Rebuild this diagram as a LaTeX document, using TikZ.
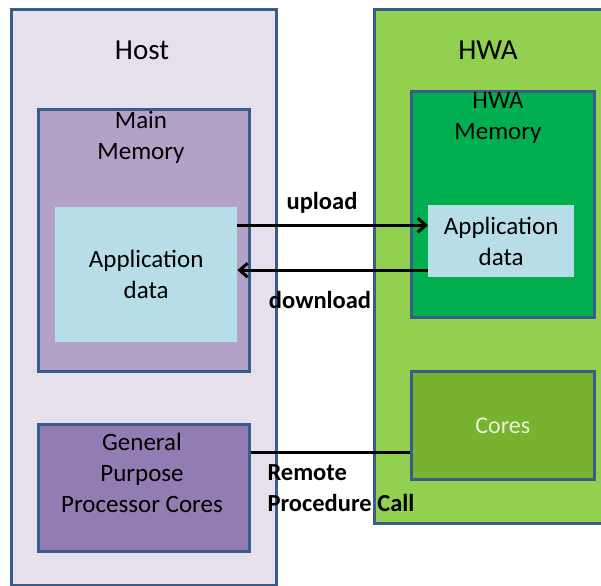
\documentclass[tikz,border=0pt]{standalone}
\usepackage{fontspec}
\setmainfont{Carlito}
\usepackage{tikz}
\usetikzlibrary{arrows.meta}

\definecolor{edge}{HTML}{385D8A}
\definecolor{hostfill}{HTML}{E6E0EC}
\definecolor{memfill}{HTML}{B3A2C7}
\definecolor{gpfill}{HTML}{927DB3}
\definecolor{datafill}{HTML}{B7DEE8}
\definecolor{hwafill}{HTML}{92D050}
\definecolor{hwamemfill}{HTML}{00B050}
\definecolor{corefill}{HTML}{77B32E}
\definecolor{coretext}{HTML}{EBF1DE}

\tikzset{
  box/.style={draw=edge, line width=2.6pt, anchor=north west, inner sep=0pt},
  datbox/.style={anchor=north west, fill=datafill, inner sep=0pt, align=center,
    font=\fontsize{25}{31}\selectfont},
  title/.style={align=center, font=\fontsize{25}{31}\selectfont},
  lbl/.style={font=\bfseries\fontsize{24.5}{31}\selectfont},
  arr/.style={line width=3pt, ->, >={Straight Barb[length=8pt,width=14pt]}},
  link/.style={line width=3pt}
}

\begin{document}
\begin{tikzpicture}[x=1pt,y=-1pt]
\clip (0,0) rectangle (601,585);
\fill[white] (0,0) rectangle (601,585);

% Host side
\node[box, fill=hostfill, minimum width=265pt, minimum height=576pt] (host) at (10,8) {};
\node[title, font=\fontsize{29}{31}\selectfont] (hosttitle) at (142,50) {Host};

\node[box, fill=memfill, minimum width=211pt, minimum height=262pt] (mainmem) at (37,108) {};
\node[title] (memtitle) at (141,137) {Main\\Memory};

\node[datbox, minimum width=182pt, minimum height=135pt] (hostdata) at (55,207) {Application\\data};

\node[box, fill=gpfill, minimum width=211pt, minimum height=127pt] (gppc) at (37,423) {};
\node[title] (gptitle) at (142,473) {General\\Purpose\\Processor Cores};

% HWA side
\node[box, fill=hwafill, minimum width=260pt, minimum height=514pt] (hwa) at (373,8) {};
\node[title, font=\fontsize{29}{31}\selectfont] (hwatitle) at (488,50) {HWA};

\node[box, fill=hwamemfill, minimum width=183pt, minimum height=226pt] (hwamem) at (410,90) {};
\node[title] (hwamemtitle) at (498,118) {HWA\\Memory};

\node[datbox, minimum width=146pt, minimum height=72pt] (hwadata) at (428,205) {Application\\data};

\node[box, fill=corefill, minimum width=183pt, minimum height=108pt,
  text=coretext, font=\fontsize{24}{31}\selectfont] (cores) at (410,370) {Cores};

% connectors
\coordinate (upR) at ([yshift=16pt]hwadata.west);
\coordinate (downR) at ([yshift=-29pt]hwadata.west);
\coordinate (rpcR) at ([yshift=-27pt]cores.west);

\draw[arr] (hostdata.east |- upR) -- (upR);
\draw[arr] (downR) -- (hostdata.east |- downR);
\draw[link] (gppc.east |- rpcR) -- (rpcR);

\node[lbl] (uplbl) at (322,203) {upload};
\node[lbl] (downlbl) at (320,300) {download};
\node[lbl, anchor=west, align=left] (rpclbl) at (264,488) {Remote\\Procedure Call};

\end{tikzpicture}
\end{document}
